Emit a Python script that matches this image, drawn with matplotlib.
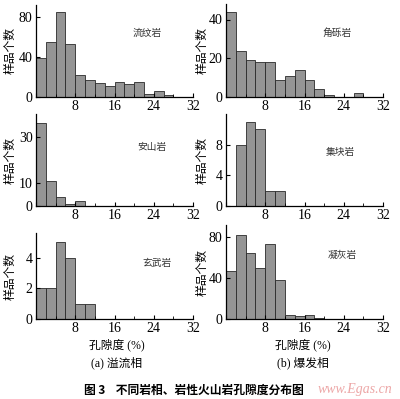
import numpy as np
import matplotlib
matplotlib.use('Agg')
import matplotlib.pyplot as plt

plt.rcParams['font.family'] = ['Liberation Serif', 'Noto Sans CJK SC']
plt.rcParams['axes.linewidth'] = 0.9

# porosity bins (%), width 2
bin_left = np.arange(0, 32, 2)

liuwen = [39, 55, 85, 53, 22, 17, 14, 11, 15, 13, 15, 3, 6, 2, 0, 0]
jiaoli = [44, 24, 19, 18, 18, 9, 11, 14, 9, 4, 1, 0, 0, 2, 0, 0]
anshan = [36, 11, 4, 1, 2, 0, 0, 0, 0, 0, 0, 0, 0, 0, 0, 0]
jikuai = [0, 8, 11, 10, 2, 2, 0, 0, 0, 0, 0, 0, 0, 0, 0, 0]
xuanwu = [2, 2, 5, 4, 1, 1, 0, 0, 0, 0, 0, 0, 0, 0, 0, 0]
ninghui = [47, 82, 65, 50, 73, 38, 4, 3, 4, 1, 0, 0, 0, 0, 0, 0]

names = ['流纹岩', '角砾岩', '安山岩', '集块岩', '玄武岩', '凝灰岩']
series = [liuwen, jiaoli, anshan, jikuai, xuanwu, ninghui]
yticks = [[0, 40, 80], [0, 20, 40], [0, 10, 30], [0, 4, 8], [0, 2, 4], [0, 40, 80]]
ylims = [92, 48, 40, 12, 5.6, 92]

W, H = 400, 399
# axes boxes in pixels: left, top, right, bottom
boxes = [(36, 5, 193, 97), (226, 4, 383, 97),
         (36, 114, 193, 206), (226, 114, 383, 206),
         (36, 233, 193, 319), (226, 225, 383, 319)]
name_pos = [(147, 33), (337, 33), (152, 147), (340, 152), (157, 263), (342, 255)]
ylabel_x = [10, 202, 10, 202, 10, 202]

fig = plt.figure(figsize=(4.0, 3.99), dpi=100)

for i in range(6):
    l, t, r, b = boxes[i]
    ax = fig.add_axes([l / W, 1 - b / H, (r - l) / W, (b - t) / H])
    ax.bar(bin_left, series[i], width=2, align='edge', color='#959595',
           edgecolor='#2a2a2a', linewidth=0.6)
    ax.set_xlim(0, 32)
    ax.set_ylim(0, ylims[i])
    ax.set_xticks([0, 8, 16, 24, 32])
    ax.set_xticklabels(['0', '8', '16', '24', '32'])
    ax.set_xticks([4, 12, 20, 28], minor=True)
    ax.set_yticks(yticks[i])
    for s in ['top', 'right']:
        ax.spines[s].set_visible(False)
    ax.tick_params(axis='both', direction='in', length=3, width=0.8,
                   labelsize=10, pad=2.5)
    ax.tick_params(axis='x', which='minor', direction='in', length=2)
    # the 0 on x sits with the y zero label, keep only one
    ax.get_xticklabels()[0].set_visible(False)
    ax.set_ylabel('样品个数', fontsize=8.5, family=['Noto Sans CJK SC'],
                  va='center')
    ax.yaxis.set_label_coords((ylabel_x[i] - l) / (r - l), 0.5)
    fig.text(name_pos[i][0] / W, 1 - name_pos[i][1] / H, names[i],
             fontsize=7, ha='center', va='center', color='#333333',
             family=['Noto Sans CJK SC'])

for x, sub in [(117, '(a) 溢流相'), (303, '(b) 爆发相')]:
    fig.text(x / W, 1 - 345 / H, '孔隙度 (%)', fontsize=8.5, ha='center',
             va='center', family=['Liberation Serif', 'Noto Sans CJK SC'])
    fig.text(x / W, 1 - 363 / H, sub, fontsize=8.5, ha='center',
             va='center', family=['Liberation Serif', 'Noto Sans CJK SC'])

fig.text(194 / W, 1 - 390 / H, '图 3    不同岩相、岩性火山岩孔隙度分布图',
         fontsize=8.5, fontweight='bold', ha='center', va='center',
         family=['Noto Sans CJK SC'])
fig.text(392 / W, 1 - 389 / H, 'www.Egas.cn', fontsize=10, style='italic',
         ha='right', va='center', color='#e89090', alpha=0.8,
         family=['Liberation Serif'])

fig.savefig('out.png', dpi=100)
